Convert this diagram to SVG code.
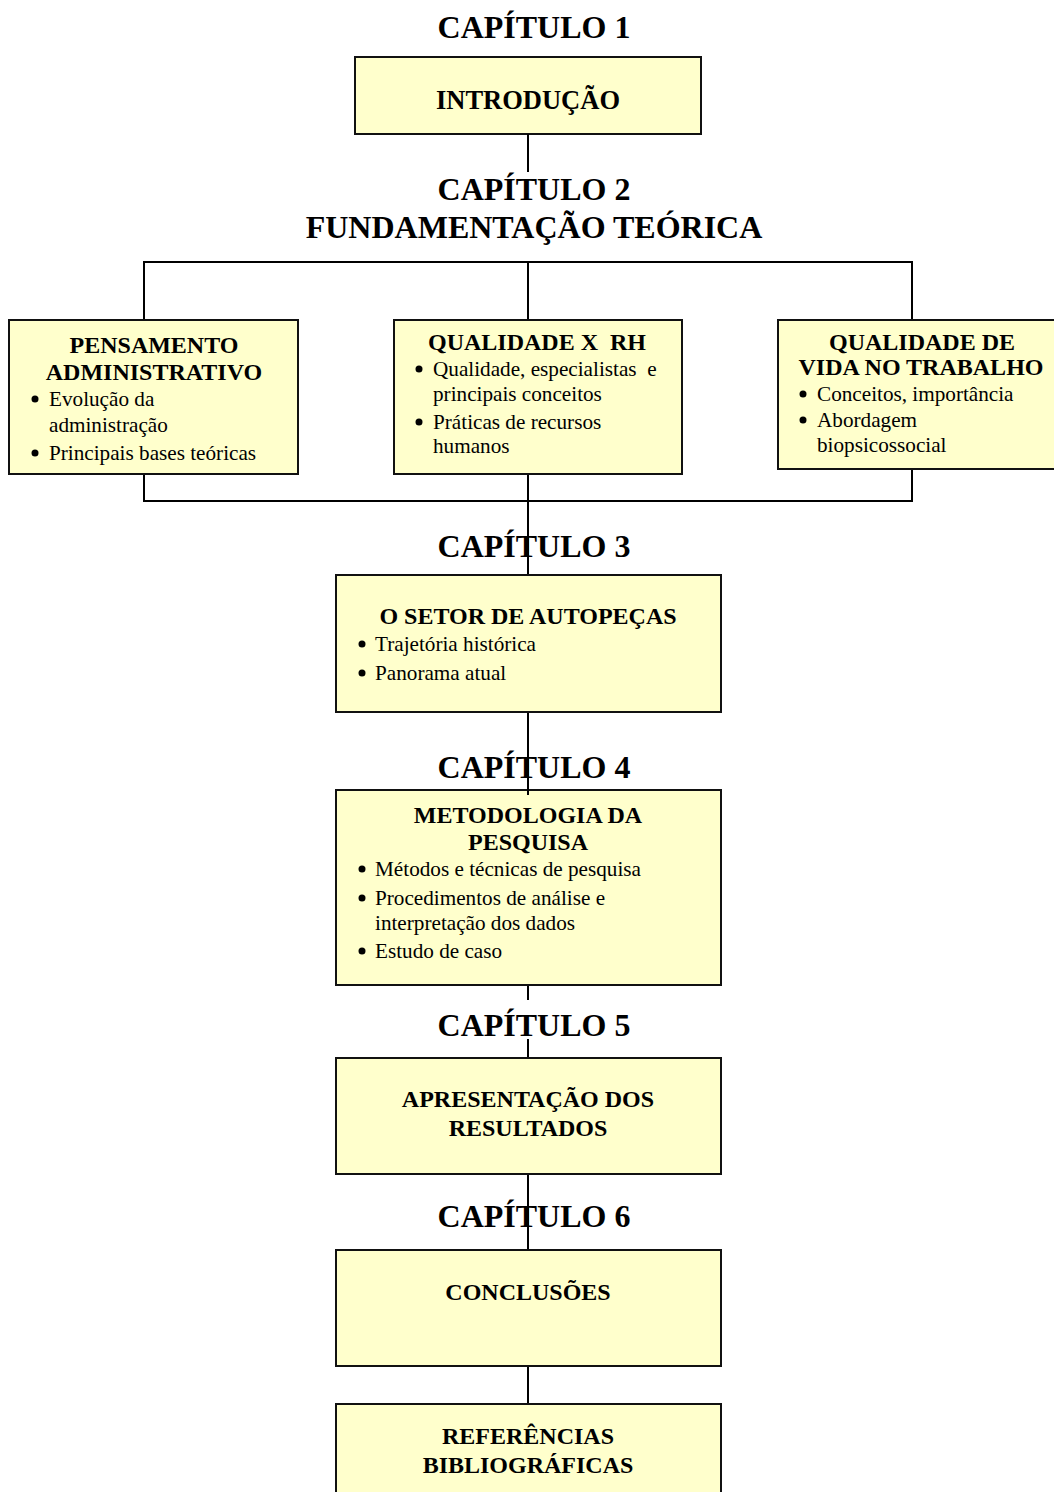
<svg xmlns="http://www.w3.org/2000/svg" width="1054" height="1492" viewBox="0 0 1054 1492">
<style>
.box{fill:#FFFFCC;stroke:#111;stroke-width:2}
.ln{stroke:#000;stroke-width:2;fill:none}
.cap{font-family:"Liberation Serif","Times New Roman",serif;font-weight:bold;font-size:32px;text-anchor:middle;fill:#000}
.t{font-family:"Liberation Serif","Times New Roman",serif;font-weight:bold;font-size:24px;text-anchor:middle;fill:#000}
.b{font-family:"Liberation Serif","Times New Roman",serif;font-size:21.2px;fill:#000}
.dot{fill:#000}
</style>
<rect width="1054" height="1492" fill="#fff"/>
<g id="n-intro">
<text class="cap" x="534" y="38">CAPÍTULO 1</text>
<rect class="box" x="355" y="57" width="346" height="77"/>
<text class="t" x="528" y="109" style="font-size:26.5px">INTRODUÇÃO</text>
</g>
<g id="n-cap2">
<text class="cap" x="534" y="200">CAPÍTULO 2</text>
<text class="cap" x="534" y="238">FUNDAMENTAÇÃO TEÓRICA</text>
</g>
<g id="connectors">
<line class="ln" x1="528" y1="134" x2="528" y2="172"/>
<polyline class="ln" points="144,320 144,262 912,262 912,320"/>
<line class="ln" x1="528" y1="262" x2="528" y2="320"/>
<polyline class="ln" points="144,474 144,501 912,501 912,469"/>
<line class="ln" x1="528" y1="474" x2="528" y2="575"/>
<line class="ln" x1="528" y1="708" x2="528" y2="795"/>
<line class="ln" x1="528" y1="985" x2="528" y2="1000"/>
<line class="ln" x1="528" y1="1039" x2="528" y2="1058"/>
<line class="ln" x1="528" y1="1174" x2="528" y2="1250"/>
<line class="ln" x1="528" y1="1366" x2="528" y2="1404"/>
</g>
<g id="n-pensamento">
<rect class="box" x="9" y="320" width="289" height="154"/>
<text class="t" x="154" y="353">PENSAMENTO</text>
<text class="t" x="154" y="380">ADMINISTRATIVO</text>
<circle class="dot" cx="35" cy="399" r="3.5"/>
<text class="b" x="49" y="406">Evolução da</text>
<text class="b" x="49" y="432">administração</text>
<circle class="dot" cx="35" cy="453" r="3.5"/>
<text class="b" x="49" y="460">Principais bases teóricas</text>
</g>
<g id="n-qualidade-rh">
<rect class="box" x="394" y="320" width="288" height="154"/>
<text class="t" x="537" y="350" xml:space="preserve">QUALIDADE X  RH</text>
<circle class="dot" cx="419" cy="369" r="3.5"/>
<text class="b" x="433" y="376" xml:space="preserve">Qualidade, especialistas  e</text>
<text class="b" x="433" y="401">principais conceitos</text>
<circle class="dot" cx="419" cy="422" r="3.5"/>
<text class="b" x="433" y="429">Práticas de recursos</text>
<text class="b" x="433" y="453">humanos</text>
</g>
<g id="n-qvt">
<rect class="box" x="778" y="320" width="280" height="149"/>
<text class="t" x="922" y="350">QUALIDADE DE</text>
<text class="t" x="921" y="375">VIDA NO TRABALHO</text>
<circle class="dot" cx="803" cy="394" r="3.5"/>
<text class="b" x="817" y="401">Conceitos, importância</text>
<circle class="dot" cx="803" cy="420" r="3.5"/>
<text class="b" x="817" y="427">Abordagem</text>
<text class="b" x="817" y="452">biopsicossocial</text>
</g>
<g id="n-autopecas">
<text class="cap" x="534" y="557">CAPÍTULO 3</text>
<rect class="box" x="336" y="575" width="385" height="137"/>
<text class="t" x="528" y="624">O SETOR DE AUTOPEÇAS</text>
<circle class="dot" cx="362" cy="644" r="3.5"/>
<text class="b" x="375" y="651">Trajetória histórica</text>
<circle class="dot" cx="362" cy="673" r="3.5"/>
<text class="b" x="375" y="680">Panorama atual</text>
</g>
<g id="n-metodologia">
<rect class="box" x="336" y="790" width="385" height="195"/>
<text class="cap" x="534" y="778">CAPÍTULO 4</text>
<line class="ln" x1="528" y1="760" x2="528" y2="795"/>
<text class="t" x="528" y="823">METODOLOGIA DA</text>
<text class="t" x="528" y="850">PESQUISA</text>
<circle class="dot" cx="362" cy="869" r="3.5"/>
<text class="b" x="375" y="876">Métodos e técnicas de pesquisa</text>
<circle class="dot" cx="362" cy="898" r="3.5"/>
<text class="b" x="375" y="905">Procedimentos de análise e</text>
<text class="b" x="375" y="930">interpretação dos dados</text>
<circle class="dot" cx="362" cy="951" r="3.5"/>
<text class="b" x="375" y="958">Estudo de caso</text>
</g>
<g id="n-resultados">
<text class="cap" x="534" y="1036">CAPÍTULO 5</text>
<rect class="box" x="336" y="1058" width="385" height="116"/>
<text class="t" x="528" y="1107">APRESENTAÇÃO DOS</text>
<text class="t" x="528" y="1136">RESULTADOS</text>
</g>
<g id="n-conclusoes">
<text class="cap" x="534" y="1227">CAPÍTULO 6</text>
<rect class="box" x="336" y="1250" width="385" height="116"/>
<text class="t" x="528" y="1300">CONCLUSÕES</text>
</g>
<g id="n-referencias">
<rect class="box" x="336" y="1404" width="385" height="100"/>
<text class="t" x="528" y="1444">REFERÊNCIAS</text>
<text class="t" x="528" y="1473">BIBLIOGRÁFICAS</text>
</g>
</svg>
